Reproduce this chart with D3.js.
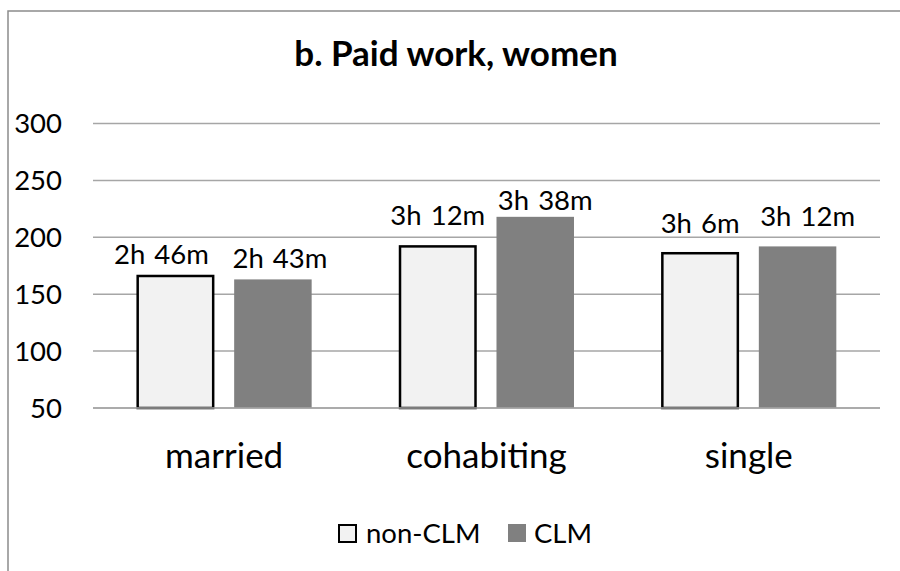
<!DOCTYPE html>
<html>
<head>
<meta charset="utf-8">
<script src="https://cdn.jsdelivr.net/npm/d3@7"></script>
<style>
  body { margin: 0; background: #fff; }
  text { font-family: Lato, "Open Sans", sans-serif; fill: #000; }
</style>
</head>
<body>
<div id="chart"></div>
<script>
// data (minutes per day)
var categories = ["married", "cohabiting", "single"];
var seriesNames = ["non-CLM", "CLM"];
var nonClm = [166, 192, 186];
var clm = [163, 218, 192];
var nonClmLabels = ["2h 46m", "3h 12m", "3h 6m"];
var clmLabels = ["2h 43m", "3h 38m", "3h 12m"];
var yTicks = [50, 100, 150, 200, 250, 300];

var width = 900, height = 571;
var margin = {top: 123.5, right: 20, bottom: 163, left: 93};

// data labels were hand-nudged in the original, [dx, dy] from default spot
var labelNudge = {
    "non-CLM": [[-14, -12], [0, -21], [0, -20]],
    "CLM": [[7, -11], [10, -7], [10, -20]]
};

var svg = d3.select("#chart")
    .append("svg")
    .attr("width", width)
    .attr("height", height);

// outer chart frame (runs off the right / bottom edge)
svg.append("rect")
    .attr("x", 8).attr("y", 11)
    .attr("width", 900).attr("height", 600)
    .attr("fill", "#fff")
    .attr("stroke", "#8c8c8c")
    .attr("stroke-width", 1.5);

svg.append("text")
    .attr("x", 456).attr("y", 66)
    .attr("text-anchor", "middle")
    .style("font-weight", "bold")
    .style("font-size", "35px")
    .text("b. Paid work, women");

var x0 = d3.scaleBand()
    .domain(categories)
    .range([margin.left, width - margin.right])
    .paddingInner(0.333)
    .paddingOuter(0.1665);

var x1 = d3.scaleBand()
    .domain(seriesNames)
    .range([0, x0.bandwidth()])
    .paddingInner(0.205);

var y = d3.scaleLinear()
    .domain([50, 300])
    .range([height - margin.bottom, margin.top]);

// gridlines
svg.append("g")
    .selectAll("line")
    .data(yTicks)
    .join("line")
    .attr("x1", margin.left)
    .attr("x2", width - margin.right)
    .attr("y1", d => y(d))
    .attr("y2", d => y(d))
    .attr("stroke", "#a6a6a6")
    .attr("stroke-width", 1.5);

// y tick labels
svg.append("g")
    .selectAll("text")
    .data(yTicks)
    .join("text")
    .attr("x", 62)
    .attr("y", d => y(d))
    .attr("dy", "0.36em")
    .attr("text-anchor", "end")
    .style("font-size", "27.5px")
    .text(d => d);

var rows = categories.map(function(c, i) {
    return {cat: c, vals: [
        {s: "non-CLM", v: nonClm[i], label: nonClmLabels[i], i: i},
        {s: "CLM", v: clm[i], label: clmLabels[i], i: i}
    ]};
});

var groups = svg.append("g")
    .selectAll("g")
    .data(rows)
    .join("g")
    .attr("transform", d => "translate(" + x0(d.cat) + ",0)");

groups.selectAll("rect")
    .data(d => d.vals)
    .join("rect")
    .attr("x", d => x1(d.s) + (d.s == "non-CLM" ? 1 : 0))
    .attr("width", d => x1.bandwidth() - (d.s == "non-CLM" ? 2 : 0))
    .attr("y", d => y(d.v))
    .attr("height", d => y(50) - y(d.v))
    .attr("fill", d => d.s == "non-CLM" ? "#f2f2f2" : "#808080")
    .attr("stroke", d => d.s == "non-CLM" ? "#000" : "none")
    .attr("stroke-width", 2.5);

groups.selectAll("text")
    .data(d => d.vals)
    .join("text")
    .attr("x", d => x1(d.s) + x1.bandwidth() / 2 + labelNudge[d.s][d.i][0])
    .attr("y", d => y(d.v) + labelNudge[d.s][d.i][1])
    .attr("text-anchor", "middle")
    .style("font-size", "27.5px")
    .style("word-spacing", "2px")
    .text(d => d.label);

// baseline (drawn over bar bottoms)
svg.append("line")
    .attr("x1", margin.left).attr("x2", width - margin.right)
    .attr("y1", y(50)).attr("y2", y(50))
    .attr("stroke", "#a6a6a6")
    .attr("stroke-width", 1.5);

// category labels
svg.append("g")
    .selectAll("text")
    .data(categories)
    .join("text")
    .attr("x", d => x0(d) + x0.bandwidth() / 2)
    .attr("y", 468)
    .attr("text-anchor", "middle")
    .style("font-size", "35px")
    .text(d => d);

// legend
var legend = svg.append("g");
var legendItems = [
    {name: "non-CLM", x: 338, fill: "#f2f2f2", stroke: "#000"},
    {name: "CLM", x: 508, fill: "#808080", stroke: "none"}
];
var li = legend.selectAll("g")
    .data(legendItems)
    .join("g")
    .attr("transform", d => "translate(" + d.x + ",524)");
li.append("rect")
    .attr("x", d => d.stroke == "none" ? 0 : 1)
    .attr("y", d => d.stroke == "none" ? 0 : 1)
    .attr("width", d => d.stroke == "none" ? 18 : 17)
    .attr("height", d => d.stroke == "none" ? 18 : 17)
    .attr("fill", d => d.fill)
    .attr("stroke", d => d.stroke)
    .attr("stroke-width", 2);
li.append("text")
    .attr("x", d => d.stroke == "none" ? 26 : 28)
    .attr("y", 19)
    .style("font-size", "27.5px")
    .text(d => d.name);
</script>
</body>
</html>
